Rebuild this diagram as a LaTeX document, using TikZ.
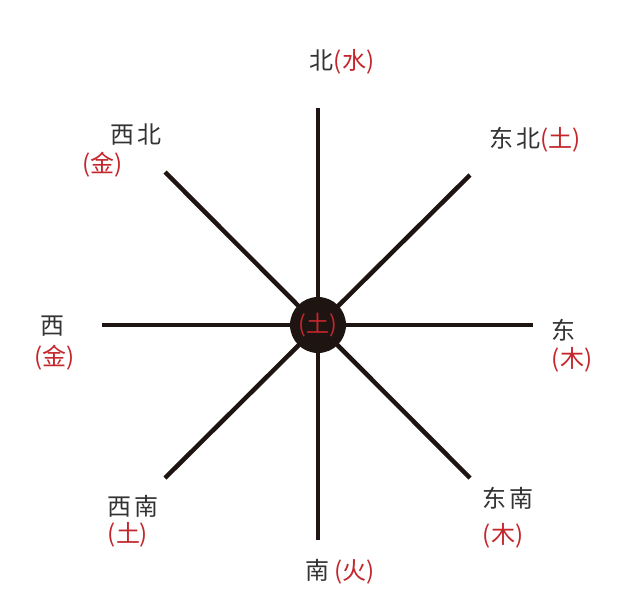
\documentclass[tikz,border=0pt]{standalone}
\usepackage{fontspec}
\newfontfamily\cjk{Noto Sans CJK SC}
\definecolor{txt}{HTML}{333333}
\definecolor{wred}{HTML}{C4262B}
\definecolor{ink}{HTML}{1E1412}
\tikzset{
  spoke/.style={line width=4.5pt, draw=ink},
  lbl/.style={font=\cjk\fontsize{24}{28}\selectfont, text=txt, inner sep=0pt},
  hub/.style={circle, fill=ink, minimum size=56pt, inner sep=0pt, font=\cjk\fontsize{23}{26}\selectfont, text=wred}
}
\newcommand{\rd}[1]{\textcolor{wred}{#1}}
\begin{document}
\begin{tikzpicture}[x=1pt,y=-1pt]
\useasboundingbox[fill=white] (0,0) rectangle (633,598);
\coordinate (n) at (318,108);
\coordinate (s) at (318,540);
\coordinate (w) at (102,325);
\coordinate (e) at (533,325);
\coordinate (ne) at (470,175);
\coordinate (nw) at (165,172);
\coordinate (sw) at (165,478);
\coordinate (se) at (470,478);
\draw[spoke] (n) -- (s);
\draw[spoke] (w) -- (e);
\draw[spoke] (nw) -- (se);
\draw[spoke] (ne) -- (sw);
\node[hub] (c) at (318,325) {(土)};
\node[lbl] (ln) at (342,62) {北\rd{(水)}};
\node[lbl] (lne) at (535,140) {东\kern3pt 北\rd{(土)}};
\node[lbl] (lnw1) at (136,135) {西\kern3pt 北};
\node[lbl] (lnw2) at (103,165) {\rd{(金)}};
\node[lbl] (lw1) at (52,326) {西};
\node[lbl] (lw2) at (55,358) {\rd{(金)}};
\node[lbl] (le1) at (563,330) {东};
\node[lbl] (le2) at (572,360) {\rd{(木)}};
\node[lbl] (lsw1) at (133,506) {西\kern3pt 南};
\node[lbl] (lsw2) at (128,535) {\rd{(土)}};
\node[lbl] (lse1) at (508,498) {东\kern3pt 南};
\node[lbl] (lse2) at (503,536) {\rd{(木)}};
\node[lbl] (ls) at (340,572) {南 \rd{(火)}};
\end{tikzpicture}
\end{document}
